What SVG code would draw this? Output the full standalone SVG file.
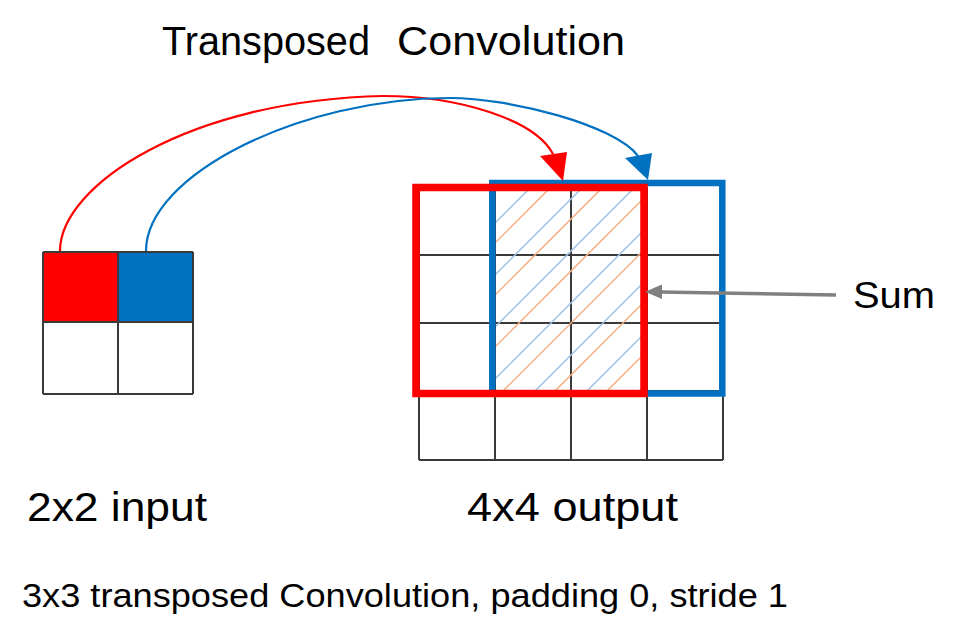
<svg xmlns="http://www.w3.org/2000/svg" width="980" height="628" viewBox="0 0 980 628">
<style>
.t{font-family:"Liberation Sans",Arial,sans-serif;fill:#000}
.g{stroke:#3a3a3a;stroke-width:2;fill:none}
.hb{stroke:#9dc3e6;stroke-width:1.5}
.ho{stroke:#f4b183;stroke-width:1.5}
</style>
<defs>
<clipPath id="hc"><rect x="496" y="190" width="145" height="201"/></clipPath>
</defs>
<rect width="980" height="628" fill="#fff"/>
<text class="t" y="55" font-size="41"><tspan x="162" textLength="208" lengthAdjust="spacingAndGlyphs">Transposed</tspan><tspan x="397" textLength="228" lengthAdjust="spacingAndGlyphs">Convolution</tspan></text>
<g id="input">
<rect x="43" y="252" width="75" height="70" fill="#ff0000"/>
<rect x="118" y="252" width="75" height="70" fill="#0070c0"/>
<path class="g" d="M43,252H193M43,322H193M43,394H193M43,252V394M118,252V394M193,252V394" stroke="#111"/>
</g>
<g id="output">
<path class="g" d="M419,187V460M495,187V460M571,187V460M647,187V460M723,187V460M419,255H723M419,323H723M419,391H723M419,460H723"/>
<g clip-path="url(#hc)">
<path class="hb" d="M538,180L318,400M590,180L370,400M642,180L422,400M694,180L474,400M746,180L526,400M798,180L578,400M850,180L630,400"/>
<path class="ho" d="M558,180L338,400M610,180L390,400M662,180L442,400M714,180L494,400M766,180L546,400M818,180L598,400"/>
</g>
<rect id="blueFrame" x="492.3" y="183" width="230" height="210.5" fill="none" stroke="#0070c0" stroke-width="6.5"/>
<rect id="redFrame" x="416" y="187.5" width="228" height="206" fill="none" stroke="#ff0000" stroke-width="7.5"/>
</g>
<g id="connectors">
<path d="M60,251C60,185 190,100 383,96C460,96 535,120 553,154" fill="none" stroke="#ff0000" stroke-width="2.2"/>
<polygon points="540,156 567,152 563,181" fill="#ff0000"/>
<path d="M146,251C146,175 300,98 450,98C510,98 615,125 638,156" fill="none" stroke="#0070c0" stroke-width="2.2"/>
<polygon points="625,158 652,153 648,180" fill="#0070c0"/>
<path d="M836,295L660,292" fill="none" stroke="#808080" stroke-width="3.5"/>
<polygon points="645,291.7 662,284.5 662,299" fill="#808080"/>
</g>
<g id="sum">
<text class="t" x="853" y="308" font-size="37" textLength="82" lengthAdjust="spacingAndGlyphs">Sum</text>
</g>
<text class="t" x="27" y="521" font-size="41" textLength="180" lengthAdjust="spacingAndGlyphs">2x2 input</text>
<text class="t" x="467" y="521" font-size="41" textLength="211" lengthAdjust="spacingAndGlyphs">4x4 output</text>
<text class="t" x="22" y="607" font-size="34" textLength="766" lengthAdjust="spacingAndGlyphs">3x3 transposed Convolution, padding 0, stride 1</text>
</svg>
